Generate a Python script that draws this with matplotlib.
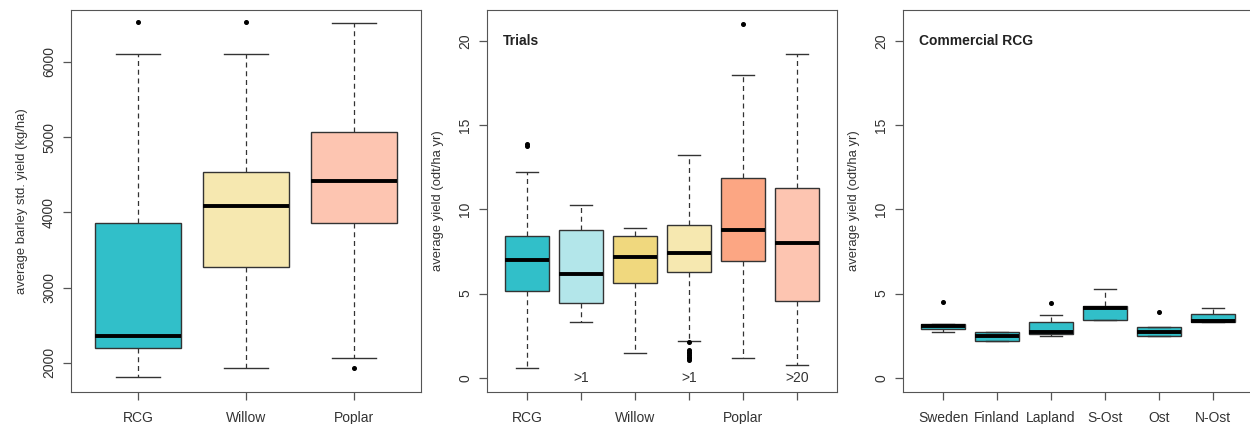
import matplotlib.pyplot as plt

plt.rcParams['font.family'] = ['Liberation Sans', 'DejaVu Sans']
plt.rcParams['font.size'] = 10

# panel 1: barley standardised yield
p1_names = ['RCG', 'Willow', 'Poplar']
p1_whislo = [1810, 1934, 2062]
p1_q1 = [2200, 3267, 3858]
p1_med = [2355, 4080, 4412]
p1_q3 = [3858, 4532, 5061]
p1_whishi = [6100, 6100, 6520]
p1_fliers = [[6523], [6523], [1934]]
p1_colors = ['#31BFC9', '#F6E8B0', '#FDC5B1']

# panel 2: trials
p2_ticklabels = ['RCG', '', 'Willow', '', 'Poplar', '']
p2_whislo = [0.59, 3.32, 1.48, 2.17, 1.19, 0.79]
p2_q1 = [5.14, 4.47, 5.61, 6.28, 6.96, 4.57]
p2_med = [7.00, 6.17, 7.19, 7.39, 8.79, 8.00]
p2_q3 = [8.40, 8.77, 8.40, 9.07, 11.84, 11.30]
p2_whishi = [12.21, 10.24, 8.87, 13.20, 18.00, 19.23]
p2_fliers = [[13.77, 13.89], [], [],
             [2.10, 1.64, 1.55, 1.45, 1.35, 1.25, 1.15, 1.05], [21.0], []]
p2_colors = ['#31BFC9', '#B3E6EA', '#F0D87E', '#F6E8B0', '#FCA683', '#FDC5B1']
p2_notes = ['', '>1', '', '>1', '', '>20']

# panel 3: commercial RCG
p3_names = ['Sweden', 'Finland', 'Lapland', 'S-Ost', 'Ost', 'N-Ost']
p3_whislo = [2.74, 2.21, 2.47, 3.41, 2.50, 3.32]
p3_q1 = [2.92, 2.21, 2.63, 3.41, 2.51, 3.32]
p3_med = [3.06, 2.47, 2.70, 4.15, 2.73, 3.38]
p3_q3 = [3.18, 2.73, 3.34, 4.25, 3.02, 3.79]
p3_whishi = [3.18, 2.73, 3.73, 5.29, 3.02, 4.17]
p3_fliers = [[4.52], [], [4.46], [], [3.91], []]

edge = '#333333'
frame = '#555555'


def stats(lo, q1, med, q3, hi, fl):
    return [{'whislo': a, 'q1': b, 'med': c, 'q3': d, 'whishi': e, 'fliers': f}
            for a, b, c, d, e, f in zip(lo, q1, med, q3, hi, fl)]


def draw(ax, st, colors):
    bp = ax.bxp(st, positions=range(1, len(st) + 1), widths=0.8, patch_artist=True,
                boxprops=dict(edgecolor=edge, linewidth=1.0),
                medianprops=dict(color='black', linewidth=2.8, solid_capstyle='butt'),
                whiskerprops=dict(color=edge, linewidth=0.9, linestyle=(0, (4, 3))),
                capprops=dict(color=edge, linewidth=1.0),
                capwidths=0.4,
                flierprops=dict(marker='o', markerfacecolor='black', markeredgecolor='black',
                                markersize=2.6, linestyle='none'))
    for patch, c in zip(bp['boxes'], colors):
        patch.set_facecolor(c)
    for s in ax.spines.values():
        s.set_color(frame)
    ax.tick_params(axis='both', colors=frame, labelcolor='#333333', length=5.8, width=0.9)
    ax.tick_params(axis='y', pad=5)
    ax.tick_params(axis='x', pad=8)


def rotate_y(ax):
    for lab in ax.get_yticklabels():
        lab.set_rotation(90)
        lab.set_va('center')


fig = plt.figure(figsize=(12.5, 4.24), dpi=100)
h = 0.901
b = 0.0755

ax1 = fig.add_axes([0.0568, b, 0.28, h])
draw(ax1, stats(p1_whislo, p1_q1, p1_med, p1_q3, p1_whishi, p1_fliers), p1_colors)
ax1.set_xlim(0.38, 3.62)
ax1.set_ylim(1612, 6688)
ax1.set_yticks([2000, 3000, 4000, 5000, 6000])
ax1.set_xticks([1, 2, 3])
ax1.set_xticklabels(p1_names)
rotate_y(ax1)
ax1.set_ylabel('average barley std. yield (kg/ha)', color='#333333', fontsize=9.4, labelpad=10)

ax2 = fig.add_axes([0.3896, b, 0.28, h])
draw(ax2, stats(p2_whislo, p2_q1, p2_med, p2_q3, p2_whishi, p2_fliers), p2_colors)
ax3 = fig.add_axes([0.7224, b, 0.28, h])
draw(ax3, stats(p3_whislo, p3_q1, p3_med, p3_q3, p3_whishi, p3_fliers), ['#31BFC9'] * 6)

for ax, labels, title in [(ax2, p2_ticklabels, 'Trials'), (ax3, p3_names, 'Commercial RCG')]:
    ax.set_xlim(0.26, 6.74)
    ax.set_ylim(-0.84, 21.84)
    ax.set_yticks([0, 5, 10, 15, 20])
    ax.set_xticks(range(1, 7))
    ax.set_xticklabels(labels)
    rotate_y(ax)
    ax.set_ylabel('average yield (odt/ha yr)', color='#333333', fontsize=9.4, labelpad=10)
    ax.text(0.55, 20, title, fontweight='bold', ha='left', va='center', color='#222222')

for i, note in enumerate(p2_notes):
    if note:
        ax2.text(i + 1, 0, note, ha='center', va='center', color='#333333')

fig.savefig('out.png', dpi=100)
